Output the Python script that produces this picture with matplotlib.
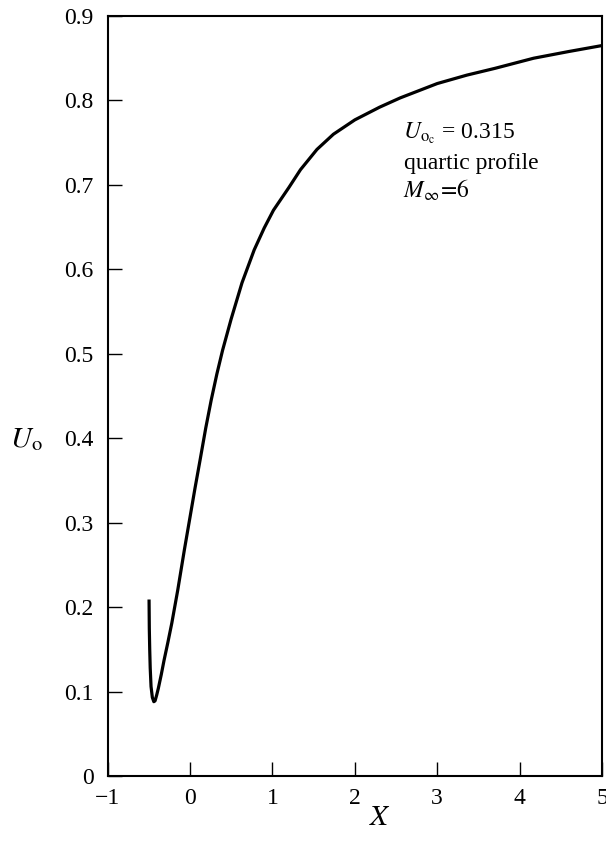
import matplotlib
matplotlib.use("Agg")
import matplotlib.pyplot as plt

plt.rcParams['font.family'] = ['Liberation Serif', 'DejaVu Serif']
plt.rcParams['mathtext.fontset'] = 'stix'

# Curve
x_vals = [-0.498, -0.495, -0.490, -0.484, -0.474, -0.458, -0.440, -0.425, -0.405,
          -0.385, -0.350, -0.316, -0.270, -0.222, -0.150, -0.069, 0.0, 0.060,
          0.121, 0.190, 0.256, 0.325, 0.394, 0.498, 0.630, 0.778, 0.900, 1.012,
          1.200, 1.340, 1.540, 1.740, 2.000, 2.300, 2.550, 3.000, 3.360, 3.700,
          4.170, 4.600, 5.000]
u_vals = [0.209, 0.175, 0.150, 0.128, 0.106, 0.093, 0.088, 0.089, 0.096,
          0.104, 0.120, 0.137, 0.158, 0.181, 0.220, 0.268, 0.307, 0.341,
          0.374, 0.412, 0.445, 0.476, 0.504, 0.541, 0.584, 0.623, 0.649, 0.670,
          0.697, 0.718, 0.742, 0.760, 0.777, 0.792, 0.803, 0.820, 0.830, 0.838,
          0.850, 0.858, 0.865]

x_ticks = [-1, 0, 1, 2, 3, 4, 5]
y_ticks = [0, 0.1, 0.2, 0.3, 0.4, 0.5, 0.6, 0.7, 0.8, 0.9]
x_ticklabels = ['\u22121', '0', '1', '2', '3', '4', '5']
y_ticklabels = ['0', '0.1', '0.2', '0.3', '0.4', '0.5', '0.6', '0.7', '0.8', '0.9']

W, H = 606, 857
fig = plt.figure(figsize=(W / 100, H / 100), dpi=100)
ax = fig.add_axes([107.7 / W, 1 - 776 / H, (602 - 107.7) / W, (776 - 16) / H])

ax.plot(x_vals, u_vals, color='black', lw=2.3, solid_capstyle='butt', solid_joinstyle='round')

ax.set_xlim(-1, 5)
ax.set_ylim(0, 0.9)
ax.set_xticks(x_ticks)
ax.set_xticklabels(x_ticklabels)
ax.set_yticks(y_ticks)
ax.set_yticklabels(y_ticklabels)
ax.tick_params(direction='in', length=10, width=1.0, labelsize=17, pad=9,
               top=False, right=False)
ax.tick_params(axis='y', pad=10)
for s in ax.spines.values():
    s.set_linewidth(1.5)

fig.text(380 / W, 1 - 818 / H, r'$X$', fontsize=21, ha='center', va='center')
fig.text(10 / W, 1 - 440 / H, r'$U_{\mathrm{o}}$', fontsize=21, ha='left', va='center')

fs = 17
fig.text(403 / W, 1 - 133 / H, r'$U_{\mathrm{o_c}}$ = 0.315', fontsize=fs, va='center', ha='left')
fig.text(404 / W, 1 - 163 / H, 'quartic profile', fontsize=fs, va='center', ha='left')
fig.text(403 / W, 1 - 190 / H, r'$M_{\infty}\!=\!6$', fontsize=fs, va='center', ha='left')

fig.savefig('out.png', dpi=100)
